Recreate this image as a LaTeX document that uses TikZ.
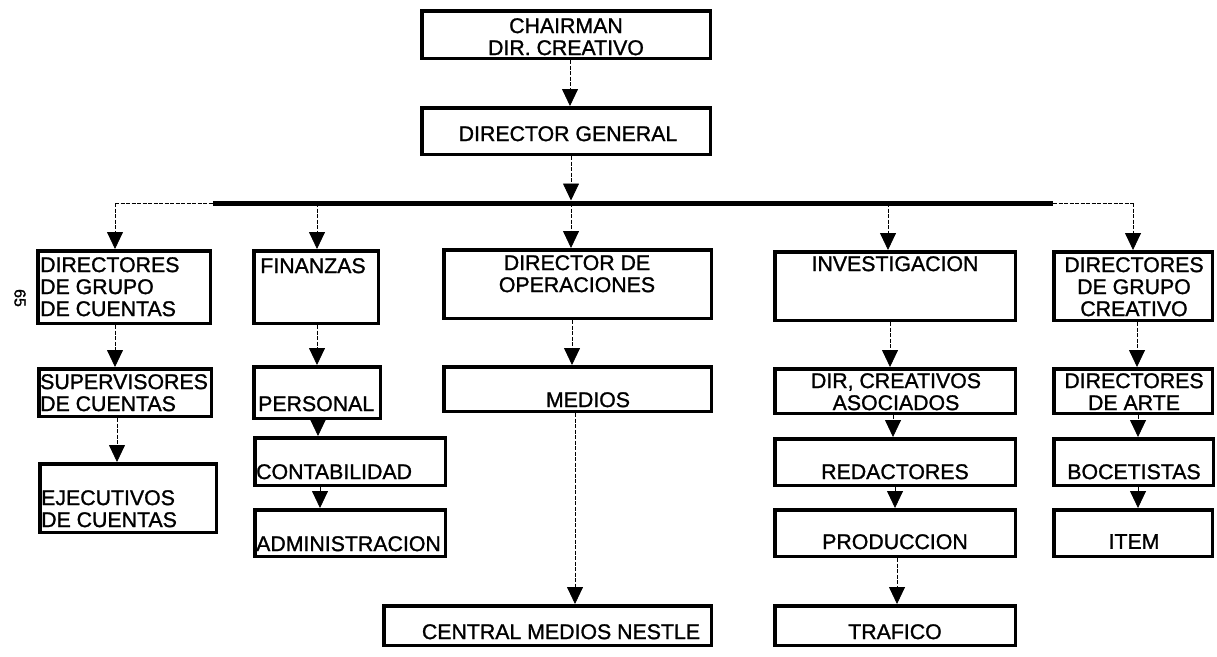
\documentclass[tikz,border=0pt]{standalone}
\usepackage{fontspec}
\setmainfont{Liberation Sans}[FakeBold=1.2]
\usetikzlibrary{arrows.meta}
\tikzset{
  box/.style={draw=black, line width=3.5pt, rectangle, inner sep=0pt},
  lbl/.style={inner sep=0pt, font=\fontsize{21.3}{22}\selectfont},
  arr/.style={draw=black, line width=0.8pt, dash pattern=on 4pt off 1.5pt,
    -{Triangle[width=16pt,length=17pt]}},
  thinbus/.style={draw=black, line width=0.8pt, dash pattern=on 4pt off 1.5pt},
  thickbus/.style={draw=black, line width=5pt}
}
\begin{document}
\begin{tikzpicture}[x=1pt,y=-1pt]
\useasboundingbox (0,0) rectangle (1217,656);
% boxes
\node[box, minimum width=288.5, minimum height=47.5] (chair) at (566,34.5) {};
\node[box, minimum width=288.5, minimum height=46.5] (dg) at (566,131) {};
\node[box, minimum width=172.5, minimum height=72.5] (dgc) at (124,287) {};
\node[box, minimum width=124.5, minimum height=72.5] (fin) at (316,287) {};
\node[box, minimum width=267.5, minimum height=68.5] (dirop) at (577.5,284) {};
\node[box, minimum width=240.5, minimum height=68.5] (inv) at (895,286) {};
\node[box, minimum width=158.5, minimum height=68.5] (dgcr) at (1133,286) {};
\node[box, minimum width=172.5, minimum height=47.5] (sup) at (125,392.5) {};
\node[box, minimum width=126.5, minimum height=51.5] (pers) at (317,392.5) {};
\node[box, minimum width=267.5, minimum height=44.5] (medios) at (577.5,389) {};
\node[box, minimum width=240.5, minimum height=44.5] (dca) at (895,391) {};
\node[box, minimum width=158.5, minimum height=44.5] (darte) at (1133,391) {};
\node[box, minimum width=176.5, minimum height=68.5] (ejec) at (128,498) {};
\node[box, minimum width=190.5, minimum height=47.5] (cont) at (350,461.5) {};
\node[box, minimum width=190.5, minimum height=46.5] (adm) at (350,533) {};
\node[box, minimum width=240.5, minimum height=46.5] (red) at (895,462) {};
\node[box, minimum width=159.5, minimum height=46.5] (boc) at (1133.5,462) {};
\node[box, minimum width=240.5, minimum height=46.5] (prod) at (895,533) {};
\node[box, minimum width=158.5, minimum height=46.5] (item) at (1133,533) {};
\node[box, minimum width=327.5, minimum height=39.5] (central) at (547.5,625.5) {};
\node[box, minimum width=240.5, minimum height=39.5] (traf) at (895,625.5) {};
% texts
\node[lbl, anchor=north, align=center] (chairT) at (566,18) {CHAIRMAN\\DIR. CREATIVO};
\node[lbl, anchor=north] (dgT) at (568,126) {DIRECTOR GENERAL};
\node[lbl, anchor=north west, align=left] (dgcT) at (40,257) {DIRECTORES\\DE GRUPO\\DE CUENTAS};
\node[lbl, anchor=north] (finT) at (313,258) {FINANZAS};
\node[lbl, anchor=north, align=center] (diropT) at (577,255) {DIRECTOR DE\\OPERACIONES};
\node[lbl, anchor=north] (invT) at (895,256) {INVESTIGACION};
\node[lbl, anchor=north, align=center] (dgcrT) at (1134,257) {DIRECTORES\\DE GRUPO\\CREATIVO};
\node[lbl, anchor=north west, align=left] (supT) at (40,374) {SUPERVISORES\\DE CUENTAS};
\node[lbl, anchor=north west] (persT) at (258,396) {PERSONAL};
\node[lbl, anchor=north] (mediosT) at (588,392) {MEDIOS};
\node[lbl, anchor=north, align=center] (dcaT) at (896,373) {DIR, CREATIVOS\\ASOCIADOS};
\node[lbl, anchor=north, align=center] (darteT) at (1134,373) {DIRECTORES\\DE ARTE};
\node[lbl, anchor=north west, align=left] (ejecT) at (41,490) {EJECUTIVOS\\DE CUENTAS};
\node[lbl, anchor=north west] (contT) at (256,464) {CONTABILIDAD};
\node[lbl, anchor=north west] (admT) at (256,536) {ADMINISTRACION};
\node[lbl, anchor=north] (redT) at (895,464) {REDACTORES};
\node[lbl, anchor=north] (bocT) at (1134,464) {BOCETISTAS};
\node[lbl, anchor=north] (prodT) at (895,534) {PRODUCCION};
\node[lbl, anchor=north] (itemT) at (1134,534) {ITEM};
\node[lbl, anchor=north] (centralT) at (561,624) {CENTRAL MEDIOS NESTLE};
\node[lbl, anchor=north] (trafT) at (895,624) {TRAFICO};
\node[inner sep=0pt, font=\fontsize{16}{16}\selectfont, rotate=-90] (pg) at (20,298) {65};
% bus
\coordinate (busL) at (115,203);
\coordinate (busA) at (213,203);
\coordinate (busB) at (1053,203);
\coordinate (busR) at (1133,203);
\coordinate (xFin) at (317,203);
\coordinate (xOp) at (571,203);
\coordinate (xInv) at (888,203);
\draw[thinbus] (busL) -- (busA);
\draw[thickbus] (busA) -- (busB);
\draw[thinbus] (busB) -- (busR);
\coordinate (xTop) at (570,0);
\draw[arr] (chair.south -| xTop) -- (dg.north -| xTop);
\draw[arr] (dg.south -| xOp) -- ([yshift=2.5pt]xOp);
\draw[arr] (busL) -- (dgc.north -| busL);
\draw[arr] (xFin) -- (fin.north -| xFin);
\draw[arr] (xOp) -- (dirop.north -| xOp);
\draw[arr] (xInv) -- (inv.north -| xInv);
\draw[arr] (busR) -- (dgcr.north -| busR);
% column arrows
\coordinate (c1) at (115,0); \coordinate (c1b) at (117,0);
\draw[arr] (dgc.south -| c1) -- (sup.north -| c1);
\draw[arr] (sup.south -| c1b) -- (ejec.north -| c1b);
\coordinate (c2) at (317,0); \coordinate (c2b) at (318,0); \coordinate (c2c) at (320,0);
\draw[arr] (fin.south -| c2) -- (pers.north -| c2);
\draw[arr] (pers.south -| c2b) -- (cont.north -| c2b);
\draw[arr] (cont.south -| c2c) -- (adm.north -| c2c);
\coordinate (c3) at (572,0); \coordinate (c3b) at (575,0);
\draw[arr] (dirop.south -| c3) -- (medios.north -| c3);
\draw[arr] (medios.south -| c3b) -- (central.north -| c3b);
\coordinate (c4) at (890,0); \coordinate (c4b) at (893,0); \coordinate (c4c) at (895,0); \coordinate (c4d) at (897,0);
\draw[arr] (inv.south -| c4) -- (dca.north -| c4);
\draw[arr] (dca.south -| c4b) -- (red.north -| c4b);
\draw[arr] (red.south -| c4c) -- (prod.north -| c4c);
\draw[arr] (prod.south -| c4d) -- (traf.north -| c4d);
\coordinate (c5) at (1137,0); \coordinate (c5b) at (1138,0);
\draw[arr] (dgcr.south -| c5) -- (darte.north -| c5);
\draw[arr] (darte.south -| c5b) -- (boc.north -| c5b);
\draw[arr] (boc.south -| c5b) -- (item.north -| c5b);
\end{tikzpicture}
\end{document}
